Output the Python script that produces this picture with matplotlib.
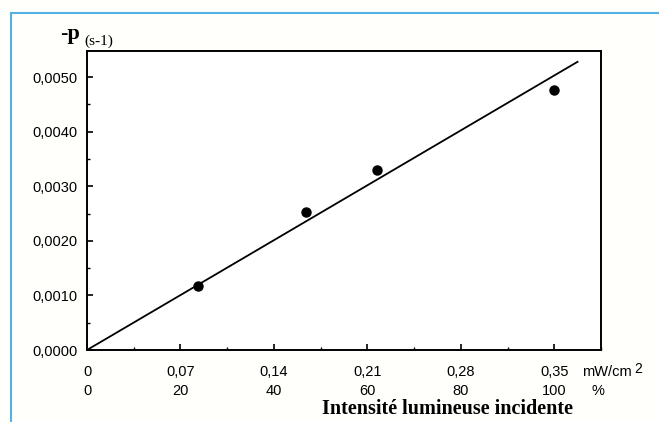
import matplotlib
matplotlib.use("Agg")
import matplotlib.pyplot as plt
from matplotlib.ticker import MultipleLocator, FixedLocator
import matplotlib.transforms as mtransforms
from matplotlib.lines import Line2D

# Data
intensity = [0.083, 0.164, 0.217, 0.350]
minus_p = [0.00117, 0.00253, 0.00330, 0.00476]
fit_x = [0.0, 0.368]
fit_y = [0.0, 0.00529]
x_ticks = [0, 0.07, 0.14, 0.21, 0.28, 0.35]
x_ticklabels = ["0", "0,07", "0,14", "0,21", "0,28", "0,35"]
pct_labels = ["0", "20", "40", "60", "80", "100"]
y_ticks = [0, 0.001, 0.002, 0.003, 0.004, 0.005]
y_ticklabels = ["0,0000", "0,0010", "0,0020", "0,0030", "0,0040", "0,0050"]

FS = 10.5
fig = plt.figure(figsize=(6.59, 4.22), dpi=100)
fig.patch.set_facecolor("#fffffc")
ax = fig.add_axes([87/659, 1-350/422, (601-87)/659, (350-51)/422])
ax.set_facecolor("white")

ax.plot(fit_x, fit_y, color="black", lw=1.3, solid_capstyle="butt")
ax.plot(intensity, minus_p, "o", color="black", ms=6.5)

ax.set_xlim(0, 0.385)
ax.set_ylim(0, 0.00548)

ax.xaxis.set_major_locator(FixedLocator(x_ticks))
ax.xaxis.set_minor_locator(MultipleLocator(0.035))
ax.yaxis.set_major_locator(FixedLocator(y_ticks))
ax.yaxis.set_minor_locator(MultipleLocator(0.0005))
ax.set_xticklabels(x_ticklabels)
ax.set_yticklabels(y_ticklabels)

lab_font = dict(family="Liberation Sans", size=FS)
for lab in ax.get_xticklabels() + ax.get_yticklabels():
    lab.set_fontfamily("Liberation Sans")
    lab.set_fontsize(FS)

ax.tick_params(which="major", direction="in", length=4, width=1.2, colors="black", pad=11)
ax.tick_params(which="minor", direction="in", length=2.5, width=1.0)
ax.tick_params(axis="y", which="major", pad=7)
for s in ax.spines.values():
    s.set_linewidth(1.4)

# second row of x labels (percent)
trans = mtransforms.blended_transform_factory(ax.transData, fig.transFigure)
for xv, lab in zip(x_ticks, pct_labels):
    ax.text(xv, 1-391/422, lab, transform=trans, ha="center", va="center", **lab_font)
fig.text(582/659, 1-372/422, "mW/cm", ha="left", va="center", **lab_font)
fig.text(634/659, 1-369/422, "2", ha="left", va="center", family="Liberation Sans", size=FS - 0.5)
fig.text(592/659, 1-391/422, "%", ha="left", va="center", **lab_font)

fig.text(447/659, 1-409/422, "Intensité lumineuse incidente", ha="center", va="center",
         family="Liberation Serif", weight="bold", size=14.5)
fig.text(60/659, 1-34/422, "-p", ha="left", va="center", family="Liberation Serif",
         weight="bold", size=16)
fig.text(84/659, 1-41/422, "(s-1)", ha="left", va="center", family="Liberation Serif", size=11)

# blue frame lines (top and left)
fig.add_artist(Line2D([11/659, 1], [1-13/422, 1-13/422], transform=fig.transFigure,
                      color="#55b3e3", lw=1.5))
fig.add_artist(Line2D([11/659, 11/659], [0, 1-13/422], transform=fig.transFigure,
                      color="#55b3e3", lw=1.5))

fig.savefig("out.png", dpi=100, facecolor=fig.get_facecolor())
